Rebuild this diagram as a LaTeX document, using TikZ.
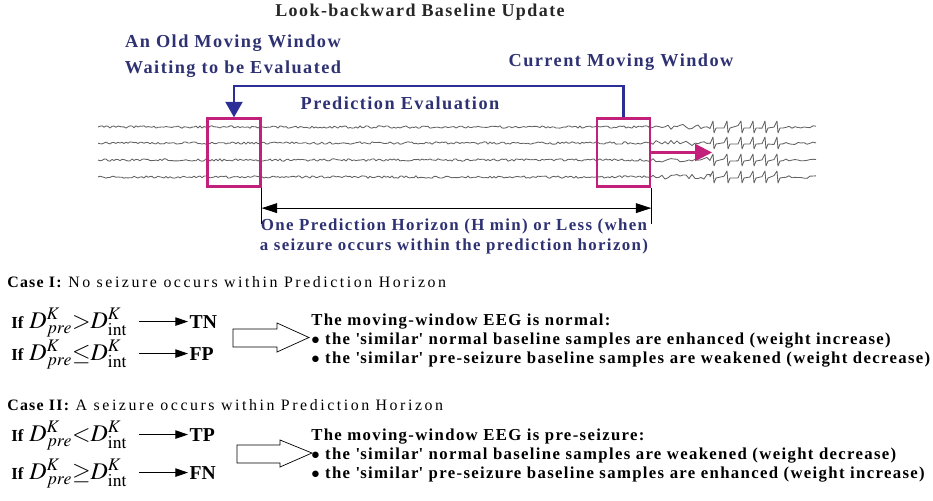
\documentclass[tikz,border=0pt]{standalone}
\usepackage{mathptmx}
\usepackage{fontspec}
\setmainfont{Liberation Serif}
\newfontfamily\spacedfont[LetterSpace=8]{Liberation Serif}
\newfontfamily\widefont[LetterSpace=16]{Liberation Serif}
\usetikzlibrary{calc, arrows.meta}
\newcommand{\sqt}{\textquotesingle}

\begin{document}
\begin{tikzpicture}[
    x=0.025cm, y=-0.025cm,
    font=\spacedfont\bfseries,
    >=Latex,
    winbox/.style={draw=winMagenta, line width=1.6pt, minimum width=1.33cm, minimum height=1.7cm, inner sep=0pt},
    bluelabel/.style={text=labelBlue, align=center, anchor=base, font=\spacedfont\bfseries\fontsize{13}{17.8}\selectfont},
    eeg/.style={black!62, line width=0.6pt, line join=round},
    casetext/.style={anchor=base west, inner sep=0pt, font=\widefont\fontsize{11.3}{13}\selectfont},
    ruletext/.style={anchor=base west, inner sep=0pt, font=\fontsize{17}{20}\selectfont},
    outcome/.style={anchor=base west, inner sep=1pt, font=\bfseries\fontsize{14}{16}\selectfont},
    rowarrow/.style={-{Triangle[length=9pt,width=6pt]}, line width=0.6pt},
    hollow/.style={draw=black, line width=0.5pt, fill=white},
    effect/.style={anchor=base west, inner sep=0pt, align=left, font=\spacedfont\bfseries\fontsize{11.9}{13.5}\selectfont}
]

    % Colours
    \definecolor{labelBlue}{HTML}{2E3172}
    \definecolor{evalBlue}{HTML}{2B2E96}
    \definecolor{winMagenta}{HTML}{C2207A}

    \useasboundingbox (0,0) rectangle (933,500);

    % 1. Title and window labels (base = last line)
    \node[anchor=base, font=\spacedfont\bfseries\fontsize{12.8}{15}\selectfont, text=black!85] (title) at (420,17) {Look-backward Baseline Update};
    \node[bluelabel] (oldlbl) at (233,73) {An Old Moving Window\\Waiting to be Evaluated};
    \node[bluelabel] (curlbl) at (621,66) {Current Moving Window};
    \node[bluelabel] (evallbl) at (400,109) {Prediction Evaluation};

    % 2. EEG traces
    \pgfmathsetseed{17}
    \foreach \yb in {127,143,160,177} {
        \draw[eeg] (98,\yb) \foreach \x in {100,102,...,650} { -- (\x,{\yb+1.2*rand}) }
            \foreach \x in {653,656,...,710} { -- (\x,{\yb+2.6*rand}) }
            \foreach \x in {713,727,741,753,765,777} { -- ({\x-3},{\yb+1.5*rand}) -- (\x,{\yb-6}) -- ({\x+1},{\yb+6}) -- ({\x+3},{\yb+1}) }
            \foreach \x in {783,786,...,818} { -- (\x,{\yb+1.4*rand}) };
    }

    % 3. Moving windows
    \node[winbox] (old) at (234,152.5) {};
    \node[winbox] (cur) at (623.5,152.5) {};

    % evaluation link
    \draw[evalBlue, line width=1.6pt, -{Triangle[length=11pt,width=12pt]}] (cur.north) -- ++(0,-31.5) -| (old.north);

    % towards the seizure
    \coordinate (sz) at (712,152.5);
    \draw[winMagenta, line width=1.6pt, -{Triangle[length=12pt,width=12pt]}] (cur.east) -- (sz);

    % 4. Prediction horizon
    \draw[line width=0.9pt] (old.south east) -- ++(0,36);
    \draw[line width=0.9pt] (cur.south east) -- ++(0,36);
    \coordinate (hl) at ($(old.south east)+(0,20.5)$);
    \coordinate (hr) at ($(cur.south east)+(0,20.5)$);
    \draw[line width=0.6pt, {Triangle[length=11pt,width=7pt]}-{Triangle[length=11pt,width=7pt]}] (hl) -- (hr);
    \node[bluelabel, font=\spacedfont\bfseries\fontsize{12}{14.2}\selectfont] (horizon) at (454,250) {One Prediction Horizon (H min) or Less (when\\a seizure occurs within the prediction horizon)};

    % 5. Case I
    \node[casetext] (case1) at (7,287) {{\spacedfont\bfseries Case I:} No seizure occurs within Prediction Horizon};
    \node[ruletext] (r1) at (11,328) {{\bfseries\fontsize{12}{14}\selectfont If} $D^{K}_{pre}{>}D^{K}_{\mathrm{int}}$};
    \node[outcome] (tn) at (188,328) {TN};
    \draw[rowarrow] ([xshift=-35pt]tn.west) -- (tn.west);
    \node[ruletext] (r2) at (11,360) {{\bfseries\fontsize{12}{14}\selectfont If} $D^{K}_{pre}{\leq}D^{K}_{\mathrm{int}}$};
    \node[outcome] (fp) at (188,360) {FP};
    \draw[rowarrow] ([xshift=-35pt]fp.west) -- (fp.west);

    \draw[hollow] (233,329) -- (277,329) -- (277,323) -- (309,337.5) -- (277,352) -- (277,347) -- (233,347) -- cycle;
    \node[effect] (eff1) at (311,363) {The moving-window EEG is normal:\\
        $\bullet$ the \sqt similar\sqt\ normal baseline samples are enhanced (weight increase)\\
        $\bullet$ the \sqt similar\sqt\ pre-seizure baseline samples are weakened (weight decrease)};

    % 6. Case II
    \node[casetext] (case2) at (7,410) {{\spacedfont\bfseries Case II:} A seizure occurs within Prediction Horizon};
    \node[ruletext] (r3) at (11,441) {{\bfseries\fontsize{12}{14}\selectfont If} $D^{K}_{pre}{<}D^{K}_{\mathrm{int}}$};
    \node[outcome] (tp) at (188,441) {TP};
    \draw[rowarrow] ([xshift=-35pt]tp.west) -- (tp.west);
    \node[ruletext] (r4) at (11,479) {{\bfseries\fontsize{12}{14}\selectfont If} $D^{K}_{pre}{\geq}D^{K}_{\mathrm{int}}$};
    \node[outcome] (fn) at (188,479) {FN};
    \draw[rowarrow] ([xshift=-35pt]fn.west) -- (fn.west);

    \draw[hollow] (237,445) -- (280,445) -- (280,440) -- (312,453) -- (280,467) -- (280,463) -- (237,463) -- cycle;
    \node[effect] (eff2) at (311,478) {The moving-window EEG is pre-seizure:\\
        $\bullet$ the \sqt similar\sqt\ normal baseline samples are weakened (weight decrease)\\
        $\bullet$ the \sqt similar\sqt\ pre-seizure baseline samples are enhanced (weight increase)};

\end{tikzpicture}
\end{document}
